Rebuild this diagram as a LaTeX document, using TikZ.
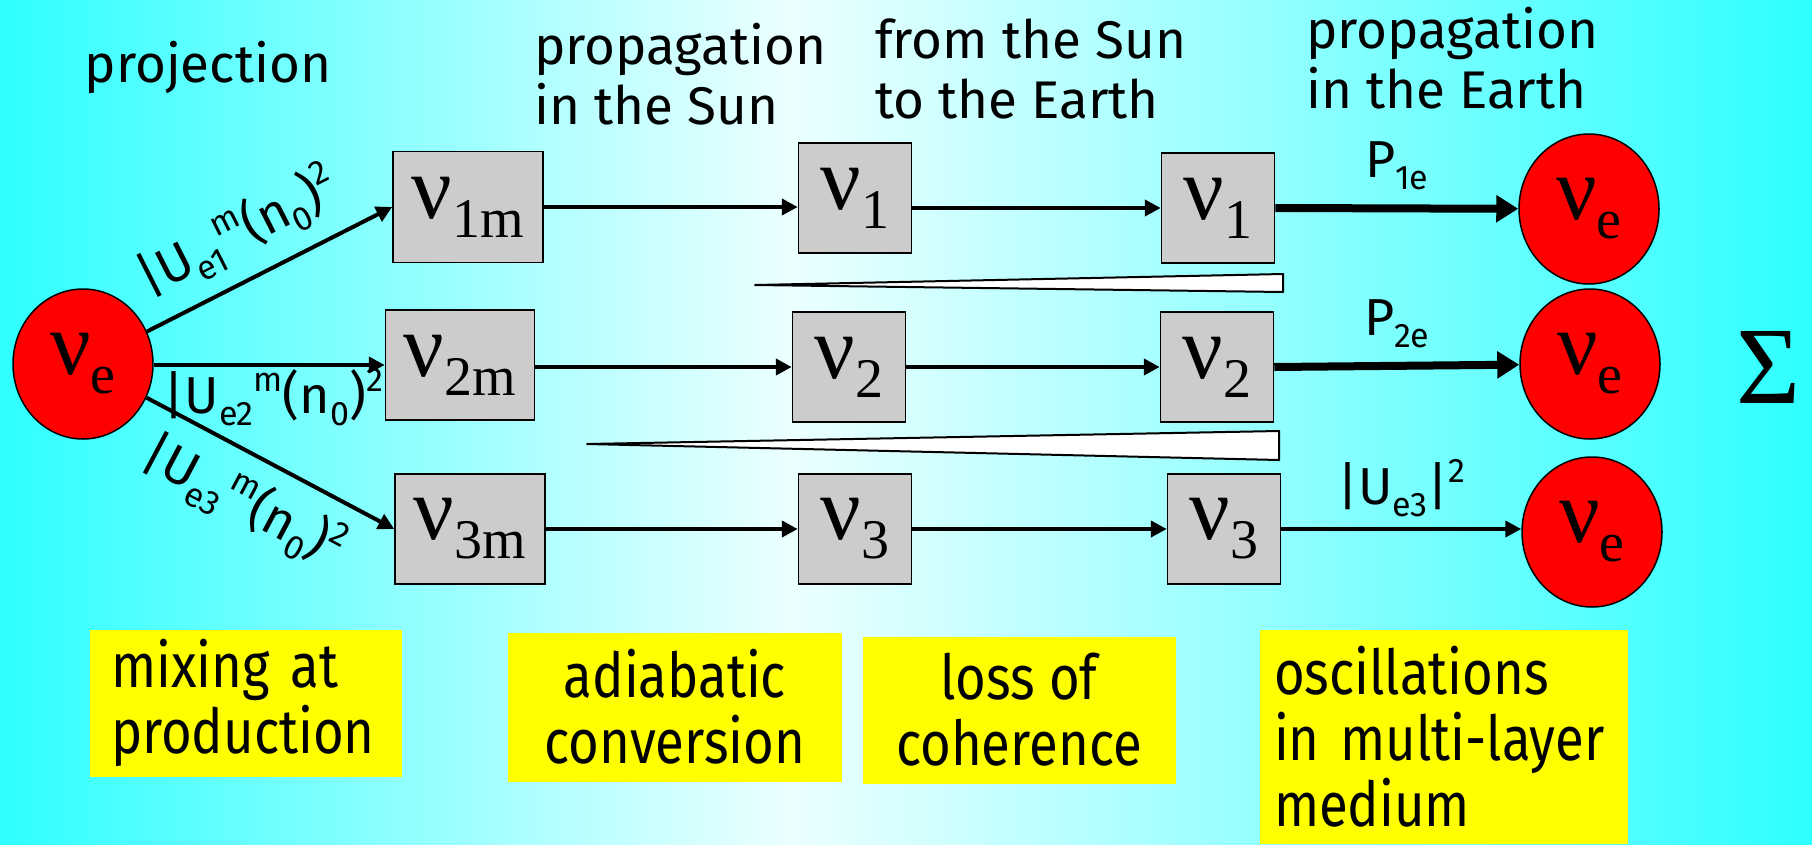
\documentclass[tikz,border=0pt]{standalone}
\usepackage{fontspec}
\setmainfont{Fira Sans}
\newfontfamily\greekfont{Liberation Serif}
\newfontfamily\notefont[FakeStretch=0.85]{Fira Sans}
\usepackage{xcolor}
\definecolor{cBgEdge}{HTML}{2EFFFF}
\definecolor{cBgMid}{HTML}{ECFFFF}
\definecolor{cBox}{HTML}{CCCCCC}
\definecolor{cNu}{HTML}{FF0000}
\definecolor{cNote}{HTML}{FFFF00}
\usepackage{tikz}
\usetikzlibrary{positioning,arrows.meta,shapes.geometric}
\newcommand{\nulab}[1]{{\greekfont\fontsize{90}{90}\selectfont ν\raisebox{-19pt}{\fontsize{56}{56}\selectfont #1}}}
\newcommand{\sbs}[1]{\raisebox{-12pt}{\fontsize{34}{34}\selectfont #1}}
\newcommand{\sps}[1]{\raisebox{22pt}{\fontsize{34}{34}\selectfont #1}}
\newcommand{\umix}[1]{|U\sbs{e#1}\sps{m}(n\sbs{0})\sps{2}}
\tikzset{
  nu-box/.style={draw=black,line width=1.5pt,fill=cBox,minimum width=113pt,
    minimum height=110pt,inner sep=0pt},
  nu-state/.style={ellipse,draw=black,line width=1.5pt,fill=cNu,
    minimum width=140pt,minimum height=150pt,inner sep=0pt},
  note-box/.style={fill=cNote,inner sep=0pt,font=\notefont\fontsize{62}{66}\selectfont},
  head-text/.style={anchor=west,align=left,inner sep=0pt,font=\fontsize{53}{60}\selectfont},
  arrow-text/.style={font=\fontsize{52}{52}\selectfont,inner sep=4pt},
  arrow/.style={-{Triangle[length=16pt,width=16pt]},line width=4pt},
  arrow-thick/.style={-{Triangle[length=22pt,width=26pt]},line width=8pt},
  wedge/.style={draw=black,line width=2pt,fill=white,line join=round},
}

\begin{document}
\begin{tikzpicture}[x=1pt,y=-1pt]
  \useasboundingbox (0,0) rectangle (1812,844);
  \shade[left color=cBgEdge,right color=cBgMid] (0,0) rectangle (790,844);
  \shade[left color=cBgMid,right color=cBgEdge] (790,0) rectangle (1812,844);

  % headings
  \node[head-text,anchor=center] (hproj) at (208,67) {projection};
  \node[head-text] (hsun)   at (534,74) {propagation\\in the Sun};
  \node[head-text] (hspace) at (875,69) {from the Sun\\to the Earth};
  \node[head-text] (hearth) at (1306,58) {propagation\\in the Earth};

  % source
  \node[nu-state] (ve) at (83,364) {\nulab{e}};

  % matter eigenstates at production
  \node[nu-box,minimum width=150pt,minimum height=111pt] (v1m) at (468,207) {\nulab{1m}};
  \node[nu-box,minimum width=149pt] (v2m) at (460,365) {\nulab{2m}};
  \node[nu-box,minimum width=150pt] (v3m) at (470,529) {\nulab{3m}};

  % mass eigenstates leaving the Sun
  \node[nu-box] (v1a) at (855,198) {\nulab{1}};
  \node[nu-box] (v2a) at (849,367) {\nulab{2}};
  \node[nu-box] (v3a) at (855,529) {\nulab{3}};

  % mass eigenstates at the Earth
  \node[nu-box] (v1b) at (1218,208) {\nulab{1}};
  \node[nu-box] (v2b) at (1217,367) {\nulab{2}};
  \node[nu-box] (v3b) at (1224,529) {\nulab{3}};

  % detected
  \node[nu-state] (o1) at (1589,209) {\nulab{e}};
  \node[nu-state] (o2) at (1590,364) {\nulab{e}};
  \node[nu-state] (o3) at (1592,532) {\nulab{e}};
  \node[font=\greekfont\fontsize{110}{110}\selectfont] (sum) at (1768,367) {Σ};

  % projection
  \draw[arrow] (ve) -- (v1m.west)
    node[arrow-text,midway,above=12pt,sloped,xshift=-12pt] {\umix{1}};
  \draw[arrow] (ve.east |- v2m.west) -- (v2m.west)
    node[arrow-text,midway,below,xshift=4pt,inner sep=1pt] {\umix{2}};
  \draw[arrow] (ve) -- (v3m.west)
    node[arrow-text,midway,below=12pt,sloped,xshift=-6pt] {\umix{3}};

  % propagation
  \draw[arrow] (v1m.east) -- (v1m.east -| v1a.west);
  \draw[arrow] (v1a.east |- v1b.west) -- (v1b.west);
  \draw[arrow] (v2m.east |- v2a.west) -- (v2a.west);
  \draw[arrow] (v2a.east) -- (v2b.west);
  \draw[arrow] (v3m.east) -- (v3a.west);
  \draw[arrow] (v3a.east) -- (v3b.west);

  \draw[arrow-thick] (v1b.east) -- (o1)
    node[arrow-text,midway,above=10pt] {P\sbs{1e}};
  \draw[arrow-thick] (v2b.east) -- (o2)
    node[arrow-text,midway,above=10pt] {P\sbs{2e}};
  \draw[arrow] (v3b.east) -- (v3b.east -| o3.west)
    node[arrow-text,midway,above=6pt] {|U\sbs{e3}|\sps{2}};

  % decoherence wedges
  \draw[wedge] (755,285) -- (1283,274) -- (1283,292) -- cycle;
  \draw[wedge] (587,444) -- (1279,431) -- (1279,460) -- cycle;

  % notes
  \node[note-box,minimum width=312pt,minimum height=147pt,text width=270pt,align=left]
    (nmix) at (246,703) {mixing at\\production};
  \node[note-box,minimum width=334pt,minimum height=149pt,align=center]
    (nadia) at (675,707) {adiabatic\\conversion};
  \node[note-box,minimum width=313pt,minimum height=147pt,align=center]
    (ncoh) at (1019,710) {loss of\\coherence};
  \node[note-box,minimum width=368pt,minimum height=214pt,text width=340pt,align=left]
    (nosc) at (1444,737) {oscillations\\in multi-layer\\medium};
\end{tikzpicture}
\end{document}
